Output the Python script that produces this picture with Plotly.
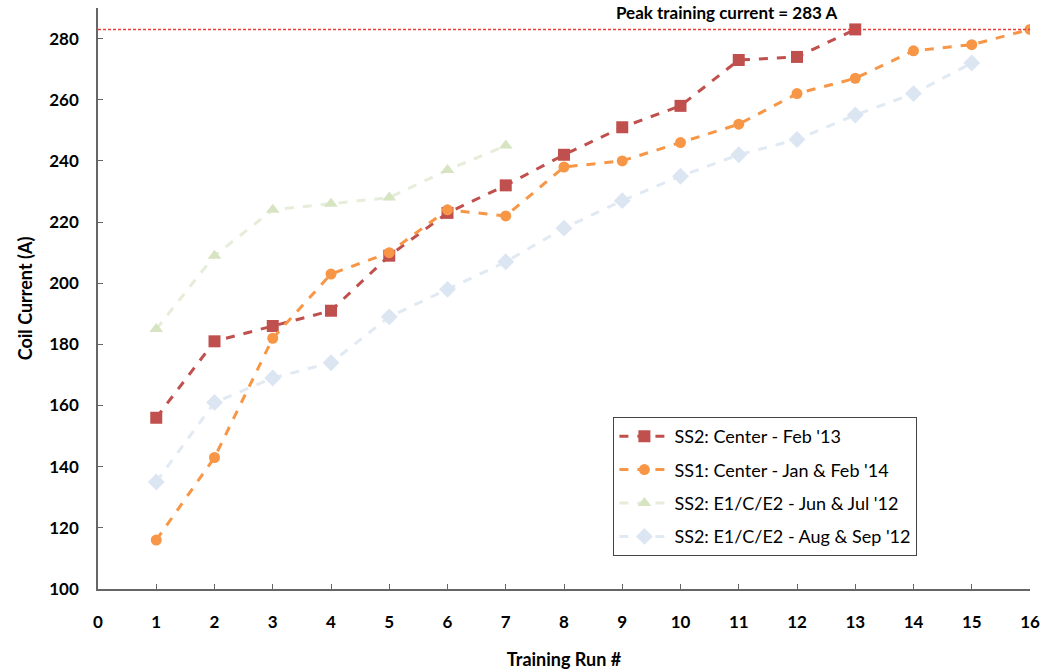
import plotly.graph_objects as go

runs_red = list(range(1, 14))
red_vals = [156, 181, 186, 191, 209, 223, 232, 242, 251, 258, 273, 274, 283]
runs_orange = list(range(1, 17))
orange_vals = [116, 143, 182, 203, 210, 224, 222, 238, 240, 246, 252, 262, 267, 276, 278, 283]
runs_green = list(range(1, 8))
green_vals = [185, 209, 224, 226, 228, 237, 245]
runs_blue = list(range(1, 16))
blue_vals = [135, 161, 169, 174, 189, 198, 207, 218, 227, 235, 242, 247, 255, 262, 272]
peak_current = 283

FONT = "Lato"
fig = go.Figure()

fig.add_trace(go.Scatter(
    x=runs_red, y=red_vals, mode="lines+markers", name="SS2: Center - Feb '13", legendgroup="a",
    line=dict(color="#C0504D", width=3, dash="dash"),
    marker=dict(symbol="square", size=12, color="#C0504D")))
fig.add_trace(go.Scatter(
    x=runs_orange, y=orange_vals, mode="lines+markers", name="SS1: Center - Jan & Feb '14", legendgroup="b",
    line=dict(color="#F79646", width=3, dash="dash"),
    marker=dict(symbol="circle", size=11, color="#F79646")))
fig.add_trace(go.Scatter(
    x=runs_green, y=green_vals, mode="lines+markers", name="SS2: E1/C/E2 - Jun & Jul '12", legendgroup="c",
    line=dict(color="#E6EDDA", width=3, dash="dash"),
    marker=dict(symbol="triangle-up", size=12, color="#D7E4C2")))
fig.add_trace(go.Scatter(
    x=runs_blue, y=blue_vals, mode="lines+markers", name="SS2: E1/C/E2 - Aug & Sep '12", legendgroup="d",
    line=dict(color="#E1E9F3", width=3, dash="dash"),
    marker=dict(symbol="diamond", size=13, color="#DCE6F2")))

fig.add_shape(type="line", xref="x", yref="y", x0=0, x1=16, y0=peak_current, y1=peak_current,
              line=dict(color="#EE3B3B", width=1.5, dash="3px,2px"))
fig.add_annotation(x=10.8, y=peak_current, xref="x", yref="y", yanchor="middle", yshift=17,
                   text=f"<b>Peak training current = {peak_current} A</b>", showarrow=False,
                   font=dict(family=FONT, size=17, color="black"))

fig.update_layout(
    width=1047, height=672,
    margin=dict(l=98, r=17, t=8, b=83, autoexpand=False),
    plot_bgcolor="white", paper_bgcolor="white",
    font=dict(family=FONT, color="black"),
    legend=dict(x=0.553, y=0.296, xanchor="left", yanchor="top",
                bordercolor="#444444", borderwidth=1, bgcolor="white",
                font=dict(family=FONT, size=18), tracegroupgap=7,
                itemwidth=50),
    xaxis=dict(range=[0, 16], tickmode="linear", tick0=0, dtick=1, automargin=False,
               showgrid=False, zeroline=False, showline=True, linecolor="#666666", linewidth=1.5,
               ticks="inside", ticklen=5, tickcolor="#666666",
               ticklabelstandoff=17,
               tickfont=dict(family=FONT, size=17, color="black", weight="bold"),
               title=dict(text="<b>Training Run #</b>", font=dict(family=FONT, size=18), standoff=22)),
    yaxis=dict(range=[100, 290], tickmode="array", tickvals=list(range(100, 281, 20)), automargin=False,
               showgrid=False, zeroline=False, showline=True, linecolor="#666666", linewidth=1.5,
               ticks="inside", ticklen=5, tickcolor="#666666",
               ticklabelstandoff=14,
               tickfont=dict(family=FONT, size=17, color="black", weight="bold"),
               title=dict(text="<b>Coil Current (A)</b>", font=dict(family=FONT, size=18), standoff=12)),
)

fig.write_html("out.html", config={"displayModeBar": False},
               post_script="document.body.style.margin='0px';document.body.style.overflow='hidden';")
